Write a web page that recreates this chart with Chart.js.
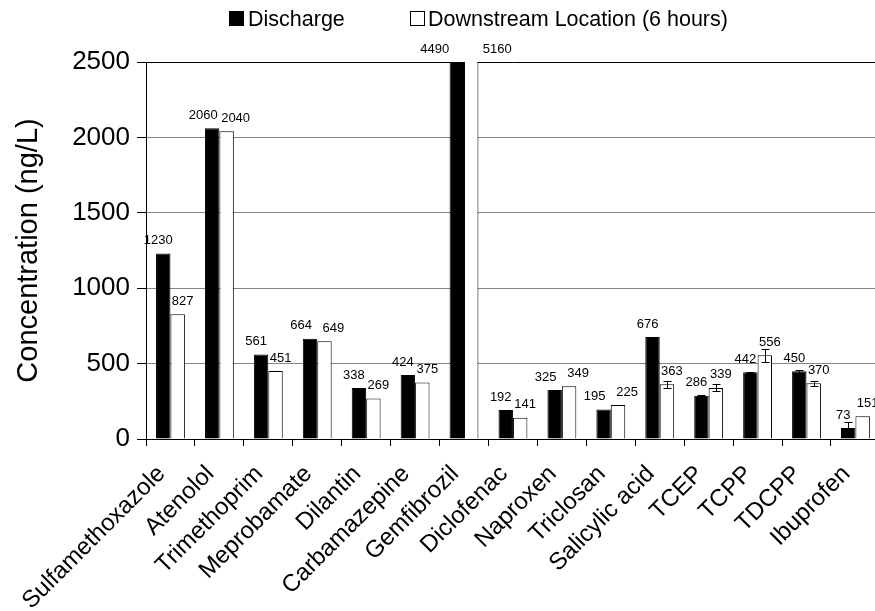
<!DOCTYPE html>
<html><head><meta charset="utf-8">
<script src="https://cdn.jsdelivr.net/npm/chart.js@4.4.1/dist/chart.umd.min.js"></script>
<style>html,body{margin:0;padding:0;overflow:hidden;background:#fff;width:875px;height:611px}canvas{display:block}</style>
</head><body>
<canvas id="c" width="890" height="611"></canvas>
<script>
const categories = ['Sulfamethoxazole','Atenolol','Trimethoprim','Meprobamate','Dilantin','Carbamazepine','Gemfibrozil','Diclofenac','Naproxen','Triclosan','Salicylic acid','TCEP','TCPP','TDCPP','Ibuprofen'];
const discharge = [1230,2060,561,664,338,424,4490,192,325,195,676,286,442,450,73];
const downstream = [827,2040,451,649,269,375,5160,141,349,225,363,339,556,370,151];
const dischargeErr = [0,0,0,0,0,0,0,0,0,0,3,3,3,10,37];
const downstreamErr = [0,0,0,0,0,0,0,0,0,0,23,24,44,17,0];
const yTicks = [0,500,1000,1500,2000,2500];
const seriesNames = ['Discharge','Downstream Location (6 hours)'];
const yTitle = 'Concentration (ng/L)';

const FONT = '"Liberation Sans", Arial, sans-serif';
const errs = [dischargeErr, downstreamErr];
const labelDx = [-5, 5];

const overlay = {
  id: 'overlay',
  afterDatasetsDraw(chart) {
    const ctx = chart.ctx, ca = chart.chartArea, ys = chart.scales.y;
    ctx.save();
    // error bars
    ctx.strokeStyle = '#000'; ctx.lineWidth = 1;
    chart.data.datasets.forEach((ds, di) => {
      const meta = chart.getDatasetMeta(di);
      meta.data.forEach((bar, i) => {
        const e = errs[di][i];
        if (!e) return;
        const v = ds.data[i];
        const x = Math.round(bar.x) + 0.5;
        const yt = Math.round(ys.getPixelForValue(v + e)) + 0.5;
        const yb = Math.round(ys.getPixelForValue(v - e)) + 0.5;
        ctx.beginPath();
        ctx.moveTo(x, yt); ctx.lineTo(x, yb);
        ctx.moveTo(x - 4, yt); ctx.lineTo(x + 4, yt);
        ctx.moveTo(x - 4, yb); ctx.lineTo(x + 4, yb);
        ctx.stroke();
      });
    });
    // data labels
    ctx.fillStyle = '#000';
    ctx.font = '13px ' + FONT;
    ctx.textAlign = 'center'; ctx.textBaseline = 'middle';
    const m0 = chart.getDatasetMeta(0), m1 = chart.getDatasetMeta(1);
    chart.data.datasets.forEach((ds, di) => {
      const meta = chart.getDatasetMeta(di);
      meta.data.forEach((bar, i) => {
        const v = ds.data[i];
        const clipped = bar.y < ca.top;
        let dx = labelDx[di];
        const tA = Math.max(m0.data[i].y, ca.top), tB = Math.max(m1.data[i].y, ca.top);
        if (Math.abs(tA - tB) < 6) dx = di === 0 ? -9 : 9;
        if (clipped) dx = di === 0 ? -22 : 26;
        const top = Math.max(bar.y, ca.top);
        ctx.fillText(String(v), bar.x + dx, top - 13);
      });
    });
    ctx.restore();
  },
  afterDraw(chart) {
    const ctx = chart.ctx;
    ctx.save();
    ctx.font = '21.5px ' + FONT;
    ctx.textBaseline = 'alphabetic'; ctx.textAlign = 'left';
    ctx.fillStyle = '#000';
    ctx.fillRect(229, 11, 15, 15);
    ctx.fillText(seriesNames[0], 248, 26);
    ctx.fillStyle = '#fff';
    ctx.fillRect(410, 11, 15, 15);
    ctx.strokeStyle = '#000'; ctx.lineWidth = 1;
    ctx.strokeRect(410.5, 11.5, 14, 14);
    ctx.fillStyle = '#000';
    ctx.fillText(seriesNames[1], 428, 26);
    ctx.restore();
  }
};

new Chart(document.getElementById('c'), {
  type: 'bar',
  data: {
    labels: categories,
    datasets: [
      { label: seriesNames[0], data: discharge, backgroundColor: '#000', borderColor: '#000', borderWidth: 1 },
      { label: seriesNames[1], data: downstream, backgroundColor: '#fff', borderColor: '#000', borderWidth: 1 }
    ]
  },
  options: {
    responsive: false,
    animation: false,
    devicePixelRatio: 1,
    layout: { padding: { top: 62, right: 6, bottom: 0, left: 0 } },
    datasets: { bar: { categoryPercentage: 0.59, barPercentage: 1.0 } },
    plugins: { legend: { display: false }, tooltip: { enabled: false } },
    scales: {
      x: {
        grid: { offset: true, drawOnChartArea: false, drawTicks: true, tickLength: 7, color: '#000', tickColor: '#000' },
        border: { display: true, color: '#000', width: 1 },
        ticks: { minRotation: 45, maxRotation: 45, autoSkip: false, color: '#000', padding: 14, labelOffset: -9, font: { family: FONT, size: 24 } },
        afterFit(s) { s.height = 611 - 439; }
      },
      y: {
        min: 0, max: 2500,
        afterBuildTicks(s) { s.ticks = yTicks.map(v => ({ value: v })); },
        grid: {
          color: c => (c.tick && c.tick.value === 2500) ? '#000' : '#868686',
          tickColor: '#000', tickLength: 9, lineWidth: 1
        },
        border: { display: true, color: '#000', width: 1 },
        ticks: { color: '#000', padding: 7, font: { family: FONT, size: 26 }, callback: v => String(v) },
        title: { display: true, text: yTitle, color: '#000', padding: { top: 12, bottom: 0 }, font: { family: FONT, size: 29 } },
        afterFit(s) { s.width = 146; }
      }
    }
  },
  plugins: [overlay]
});
</script>
</body></html>
